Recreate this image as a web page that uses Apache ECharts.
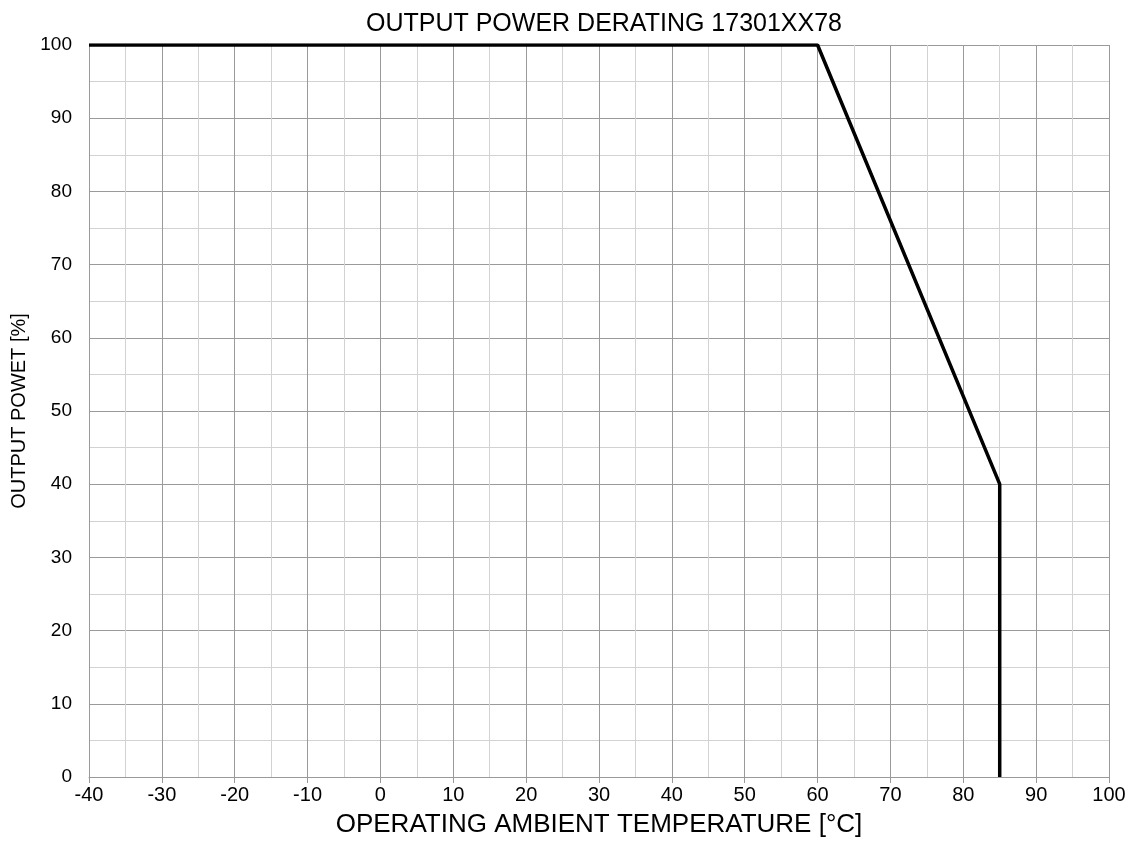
<!DOCTYPE html>
<html>
<head>
<meta charset="utf-8">
<script src="https://cdn.jsdelivr.net/npm/echarts@6/dist/echarts.min.js"></script>
<style>
  html, body { margin: 0; padding: 0; background: #fff; }
  #chart { width: 1137px; height: 844px; }
</style>
</head>
<body>
<div id="chart"></div>
<script>
// derating curve points
const temperature = [-40, 60, 85, 85]
const outputPower = [100, 100, 40, 0]

const xTicks = { min: -40, max: 100, step: 10 }
const yTicks = { min: 0, max: 100, step: 10 }

const chart = echarts.init(document.getElementById('chart'))
const font = 'Liberation Sans, Arial, sans-serif'

const option = {
  animation: false,
  title: {
    text: 'OUTPUT POWER DERATING 17301XX78',
    left: 599,
    textAlign: 'center',
    top: 7,
    textStyle: { fontFamily: font, fontSize: 25, fontWeight: 'normal', color: '#000' }
  },
  grid: { left: 89, right: 28, top: 45, bottom: 67 },
  xAxis: {
    type: 'value',
    min: xTicks.min,
    max: xTicks.max,
    interval: xTicks.step,
    name: 'OPERATING AMBIENT TEMPERATURE [°C]',
    nameLocation: 'middle',
    nameGap: 35,
    nameTextStyle: { fontFamily: font, fontSize: 26, color: '#000' },
    axisLine: { lineStyle: { color: '#999', width: 1 } },
    axisTick: { show: true, inside: false, length: 6, lineStyle: { color: '#999' } },
    axisLabel: { fontFamily: font, fontSize: 20, color: '#000', margin: 8 },
    splitLine: { show: true, lineStyle: { color: '#9a9a9a', width: 1 } },
    minorTick: { show: false, splitNumber: 2 },
    minorSplitLine: { show: true, lineStyle: { color: '#d2d2d2', width: 1 } }
  },
  yAxis: {
    type: 'value',
    min: yTicks.min,
    max: yTicks.max,
    interval: yTicks.step,
    name: 'OUTPUT POWET [%]',
    nameLocation: 'middle',
    nameGap: 58,
    nameTextStyle: { fontFamily: font, fontSize: 20, color: '#000' },
    axisLine: { show: true, lineStyle: { color: '#999', width: 1 } },
    axisTick: { show: true, inside: false, length: 7, lineStyle: { color: '#999' } },
    axisLabel: { fontFamily: font, fontSize: 19, color: '#000', margin: 17 },
    splitLine: { show: true, lineStyle: { color: '#9a9a9a', width: 1 } },
    minorTick: { show: false, splitNumber: 2 },
    minorSplitLine: { show: true, lineStyle: { color: '#d2d2d2', width: 1 } }
  },
  series: [
    {
      type: 'line',
      data: temperature.map((t, i) => [t, outputPower[i]]),
      showSymbol: false,
      lineStyle: { color: '#000', width: 3.5 }
    }
  ]
}

chart.setOption(option)
</script>
</body>
</html>
